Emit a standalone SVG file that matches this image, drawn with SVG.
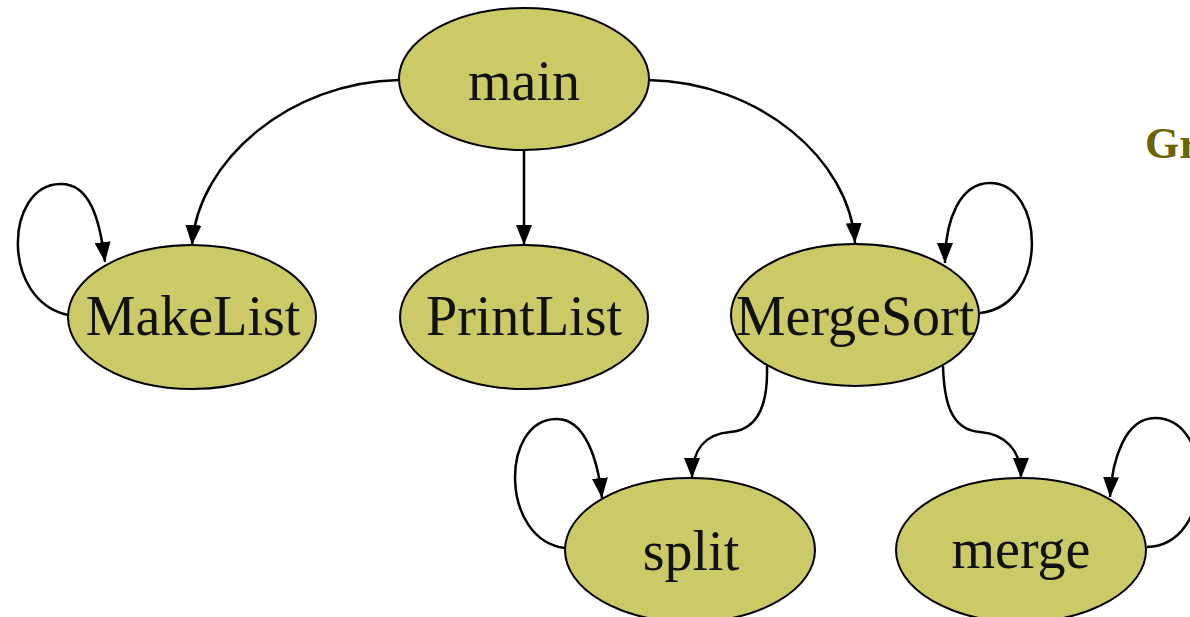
<svg xmlns="http://www.w3.org/2000/svg" width="1190" height="617" viewBox="0 0 1190 617">
  <defs>
    <marker id="arrow" markerUnits="userSpaceOnUse" markerWidth="20" markerHeight="16" refX="20" refY="8" orient="auto">
      <path d="M0,0 L20,8 L0,16 Z" fill="#000"/>
    </marker>
    <style>
      .node ellipse { fill: #cbca66; stroke: #000; stroke-width: 2; }
      .node text { font-family: "Liberation Serif", "Times New Roman", serif; font-size: 56px; fill: #111; text-anchor: middle; }
      .edges path { fill: none; stroke: #000; stroke-width: 2.5; marker-end: url(#arrow); }
      .title { font-family: "Liberation Serif", "Times New Roman", serif; font-size: 44px; font-weight: bold; fill: #6b6400; }
    </style>
  </defs>
  <rect width="1190" height="617" fill="#fff"/>

  <!-- call edges -->
  <g id="edges" class="edges">
    <path d="M399,80 C290,82 198,160 192,245"/>
    <path d="M524,149 L524,245"/>
    <path d="M648,80 C760,82 850,160 855,243"/>
    <path d="M68,315 C0,300 5,185 60,184 C90,183 100,220 105,262"/>
    <path d="M980,313 C1050,305 1045,183 990,183 C960,183 945,220 945,263"/>
    <path d="M767,366 C768,400 760,430 730,432 C705,434 692,450 692,478"/>
    <path d="M943,366 C944,400 950,430 980,432 C1005,434 1021,450 1021,478"/>
    <path d="M565,548 C500,540 500,420 556,419 C585,418 598,460 602,498"/>
    <path d="M1147,547 C1215,545 1215,418 1155,418 C1125,418 1112,460 1110,497"/>
  </g>

  <g id="main" class="node">
    <ellipse cx="524" cy="79" rx="125" ry="71"/>
    <text x="524" y="100">main</text>
  </g>
  <g id="MakeList" class="node">
    <ellipse cx="192" cy="317" rx="124" ry="72"/>
    <text x="193" y="335">MakeList</text>
  </g>
  <g id="PrintList" class="node">
    <ellipse cx="524" cy="317" rx="124" ry="72"/>
    <text x="524" y="335">PrintList</text>
  </g>
  <g id="MergeSort" class="node">
    <ellipse cx="855" cy="315" rx="124" ry="71"/>
    <text x="855" y="335">MergeSort</text>
  </g>
  <g id="split" class="node">
    <ellipse cx="690" cy="550" rx="125" ry="72"/>
    <text x="691" y="570">split</text>
  </g>
  <g id="merge" class="node">
    <ellipse cx="1021" cy="550" rx="125" ry="72"/>
    <text x="1021" y="568">merge</text>
  </g>

  <text class="title" x="1145" y="158">Gr</text>
</svg>
